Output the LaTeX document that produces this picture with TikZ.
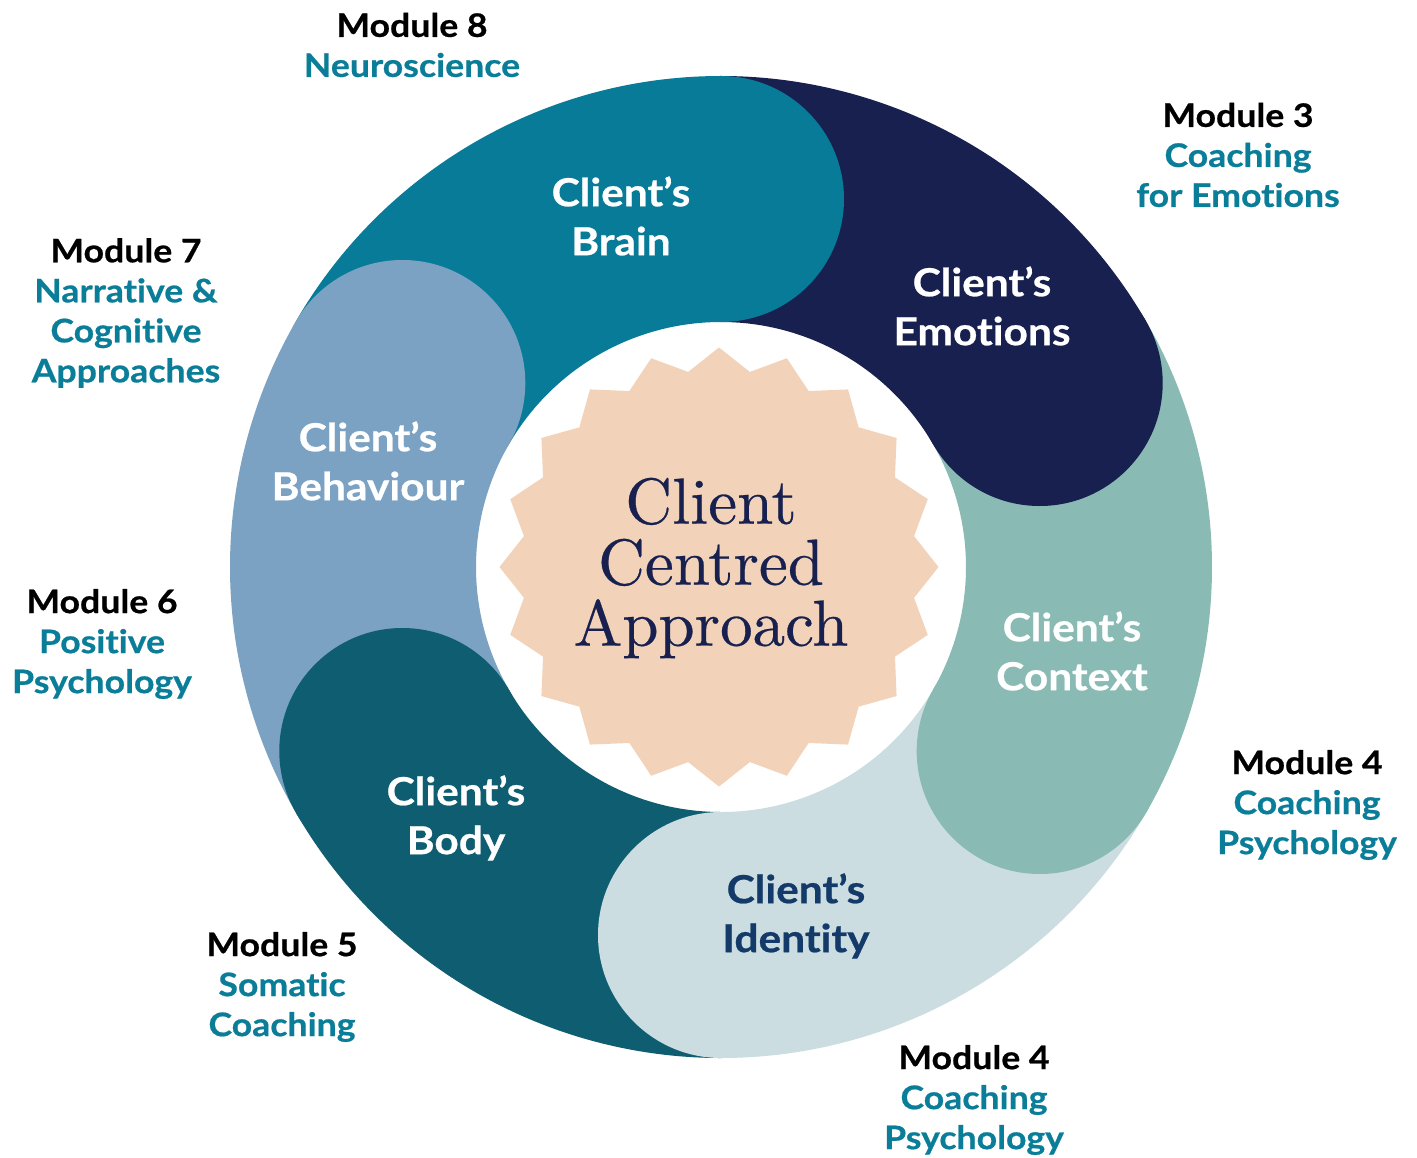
\documentclass[tikz,border=0pt]{standalone}
\usepackage{fontspec}
\newfontfamily\lato{Lato}[FakeStretch=1.1, Ligatures={NoCommon}, BoldFeatures={FakeBold=0.6}]
\newfontfamily\ccfont{lmroman10-regular.otf}[FakeBold=0.4]
\definecolor{brainc}{HTML}{077B98}
\definecolor{emoc}{HTML}{17204E}
\definecolor{ctxc}{HTML}{89BAB3}
\definecolor{idc}{HTML}{CBDDE0}
\definecolor{bodyc}{HTML}{0F5D71}
\definecolor{behc}{HTML}{7BA2C2}
\definecolor{starc}{HTML}{F2D3B9}
\definecolor{idtext}{HTML}{133A69}
\definecolor{modteal}{HTML}{0A7D98}
\tikzset{
  seglabel/.style={font=\lato\bfseries\fontsize{19.3}{24.5}\selectfont, text=white, align=center, inner sep=0pt},
  modlabel/.style={font=\lato\bfseries\fontsize{16.2}{20}\selectfont, text=modteal, align=center, inner sep=0pt},
  centertext/.style={font=\ccfont\fontsize{32.5}{30.5}\selectfont, text=emoc, align=center, inner sep=0pt}
}
\begin{document}
\begin{tikzpicture}[x=0.5pt,y=0.5pt]
\useasboundingbox (-721,-590) rectangle (696,567);
\fill[white] (-721,-590) rectangle (696,567);
% ring sectors
\foreach \a/\c in {90/brainc,30/emoc,-30/ctxc,-90/idc,-150/bodyc,150/behc}{
  \fill[\c] (\a:491) arc[start angle=\a, end angle=\a+60, radius=491]
    -- (\a+60:245) arc[start angle=\a+60, end angle=\a, radius=245] -- cycle;
}
% rounded heads
\foreach \a/\c in {90/brainc,30/emoc,-30/ctxc,-90/idc,-150/bodyc,150/behc}{
  \fill[\c] (\a:368) circle[radius=123];
}
% central star
\fill[starc] plot[samples at={0,...,39}, variable=\k]
  ({-2+(219.5-22*mod(\k,2))*cos(9*\k)}, {(219.5-22*mod(\k,2))*sin(9*\k)}) -- cycle;
\node[centertext] (center) at (-10,-1) {Client\\Centred\\Approach};
% segment labels
\node[seglabel] (brain) at (-100,351) {Client’s\\Brain};
\node[seglabel] (emotions) at (261,261) {Client’s\\Emotions};
\node[seglabel] (behaviour) at (-353,106) {Client’s\\Behaviour};
\node[seglabel] (context) at (351,-84) {Client’s\\Context};
\node[seglabel] (body) at (-265,-251) {Client’s\\Body};
\node[seglabel, text=idtext] (identity) at (75,-349) {Client’s\\Identity};
% module labels
\node[modlabel] (m8) at (-309,522) {\textcolor{black}{Module 8}\\Neuroscience};
\node[modlabel] (m3) at (517,412) {\textcolor{black}{Module 3}\\Coaching\\for Emotions};
\node[modlabel] (m7) at (-595,254) {\textcolor{black}{Module 7}\\Narrative \&\\Cognitive\\Approaches};
\node[modlabel] (m6) at (-619,-77) {\textcolor{black}{Module 6}\\Positive\\Psychology};
\node[modlabel] (m4a) at (586,-238) {\textcolor{black}{Module 4}\\Coaching\\Psychology};
\node[modlabel] (m5) at (-439,-420) {\textcolor{black}{Module 5}\\Somatic\\Coaching};
\node[modlabel] (m4b) at (253,-533) {\textcolor{black}{Module 4}\\Coaching\\Psychology};
\end{tikzpicture}
\end{document}
